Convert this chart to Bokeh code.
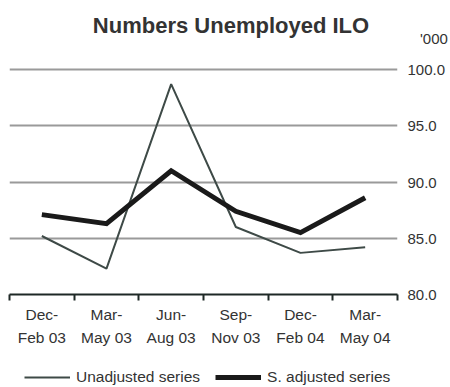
from bokeh.plotting import figure
from bokeh.models import FixedTicker, Label, Legend, LegendItem, Range1d
from bokeh.layouts import column
from bokeh.embed import file_html
from bokeh.resources import INLINE

# ---- data ----
periods = ["Dec-\nFeb 03", "Mar-\nMay 03", "Jun-\nAug 03", "Sep-\nNov 03", "Dec-\nFeb 04", "Mar-\nMay 04"]
unadjusted = [85.2, 82.3, 98.7, 86.0, 83.7, 84.2]
s_adjusted = [87.1, 86.3, 91.0, 87.4, 85.5, 88.6]
y_ticks = [80, 85, 90, 95, 100]
title_text = "Numbers Unemployed ILO"
unit_text = "'000"
series_names = ["Unadjusted series", "S. adjusted series"]

xpos = [i + 0.5 for i in range(len(periods))]
bounds = list(range(len(periods) + 1))

FONT = "Liberation Sans"
TXT = "#333333"
DARK = "#1e2826"
C_UN = "#3e4a47"
C_SA = "#1a1a1a"

W, H = 450, 387
MAIN_H = 360
FRAME_BOTTOM = 294            # pixel row of the 80.0 line
PX_PER_UNIT = 11.25
y_top = 80 + FRAME_BOTTOM / PX_PER_UNIT   # frame reaches the top of the canvas
unit_pos = 80 + (FRAME_BOTTOM - 38) / PX_PER_UNIT

p = figure(width=W, height=MAIN_H, output_backend="svg", toolbar_location=None,
           x_range=Range1d(0, len(periods)), y_range=Range1d(80, y_top),
           y_axis_location="right",
           min_border_left=9, min_border_right=51, min_border_top=0,
           min_border_bottom=MAIN_H - FRAME_BOTTOM)
p.outline_line_color = None

p.xgrid.grid_line_color = None
p.ygrid.ticker = FixedTicker(ticks=y_ticks)
p.ygrid.grid_line_color = "#9a9a9a"
p.ygrid.grid_line_width = 2

overrides = {t: f"{t:.1f}" for t in y_ticks}
overrides[unit_pos] = "\u00a0\u00a0\u00a0" + unit_text
p.yaxis.ticker = FixedTicker(ticks=y_ticks + [unit_pos])
p.yaxis.major_label_overrides = overrides
p.yaxis.axis_line_color = None
p.yaxis.major_tick_line_color = None
p.yaxis.major_tick_out = 0
p.yaxis.major_tick_in = 0
p.yaxis.minor_tick_line_color = None
p.yaxis.major_label_standoff = 10
p.yaxis.major_label_text_font = FONT
p.yaxis.major_label_text_font_size = "15px"
p.yaxis.major_label_text_color = TXT

p.xaxis.ticker = FixedTicker(ticks=xpos, minor_ticks=bounds)
p.xaxis.major_label_overrides = {x: lab for x, lab in zip(xpos, periods)}
p.xaxis.axis_line_color = DARK
p.xaxis.axis_line_width = 2
p.xaxis.major_tick_line_color = None
p.xaxis.major_tick_out = 0
p.xaxis.major_tick_in = 0
p.xaxis.minor_tick_line_color = DARK
p.xaxis.minor_tick_line_width = 2
p.xaxis.minor_tick_out = 6
p.xaxis.minor_tick_in = 0
p.xaxis.major_label_standoff = 5
p.xaxis.major_label_text_font = FONT
p.xaxis.major_label_text_font_size = "15.5px"
p.xaxis.major_label_text_color = TXT
p.xaxis.major_label_text_line_height = 1.38

p.line(xpos, unadjusted, line_color=C_UN, line_width=2)
p.line(xpos, s_adjusted, line_color=C_SA, line_width=5, line_join="miter")

p.add_layout(Label(x=221.5, y=FRAME_BOTTOM - 25, x_units="screen", y_units="screen",
                   text=title_text, text_align="center", text_baseline="alphabetic",
                   text_font=FONT, text_font_size="22px", text_font_style="bold",
                   text_color=TXT))

# ---- legend strip (hidden copies of the series carry the line styles) ----
FOOT_H = H - MAIN_H
foot = figure(width=W, height=FOOT_H, output_backend="svg", toolbar_location=None,
              x_range=Range1d(0, len(periods)), y_range=Range1d(0, 1),
              x_axis_type=None, y_axis_type=None,
              min_border_left=9, min_border_right=51, min_border_top=0, min_border_bottom=0)
foot.outline_line_color = None
foot.xgrid.visible = False
foot.ygrid.visible = False
l1 = foot.line(xpos, unadjusted, line_color=C_UN, line_width=2, visible=False)
l2 = foot.line(xpos, s_adjusted, line_color=C_SA, line_width=5, visible=False)
legend = Legend(items=[LegendItem(label=series_names[0], renderers=[l1]),
                       LegendItem(label=series_names[1], renderers=[l2])],
                orientation="horizontal", location=(15, 1),
                glyph_width=46, glyph_height=16, label_height=16,
                label_standoff=6, spacing=15, padding=0, margin=0,
                border_line_color=None, background_fill_alpha=0,
                label_text_font=FONT, label_text_font_size="15.5px",
                label_text_color=TXT)
foot.add_layout(legend)

open("out.html", "w").write(file_html(column(p, foot, spacing=0), INLINE))
